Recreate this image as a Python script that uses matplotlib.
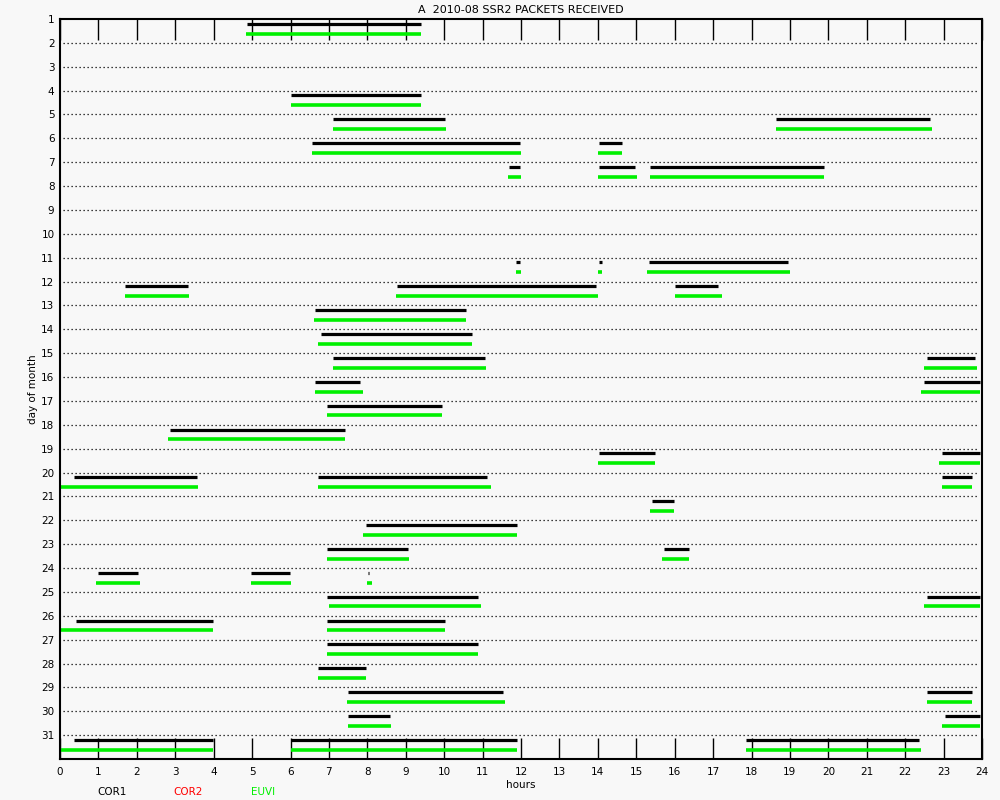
import matplotlib
matplotlib.use("Agg")
import matplotlib.pyplot as plt

title = "A  2010-08 SSR2 PACKETS RECEIVED"
days = list(range(1, 32))
hours = list(range(0, 25))

# COR1 packets received: (day, start hour, end hour)
cor1_segments = [
    (1, 4.88, 9.39),
    (4, 6.02, 9.39),
    (5, 7.11, 10.03), (5, 18.64, 22.64),
    (6, 6.57, 11.97), (6, 14.04, 14.63),
    (7, 11.70, 11.97), (7, 14.04, 14.98), (7, 15.37, 19.88),
    (11, 11.86, 11.97), (11, 14.04, 14.10), (11, 15.32, 18.95),
    (12, 1.70, 3.32), (12, 8.78, 13.96), (12, 16.02, 17.14),
    (13, 6.63, 10.56),
    (14, 6.79, 10.72),
    (15, 7.11, 11.05), (15, 22.56, 23.81),
    (16, 6.65, 7.82), (16, 22.48, 23.96),
    (17, 6.96, 9.95),
    (18, 2.87, 7.41),
    (19, 14.04, 15.48), (19, 22.96, 23.96),
    (20, 0.37, 3.56), (20, 6.72, 11.12), (20, 22.96, 23.73),
    (21, 15.40, 15.98),
    (22, 7.96, 11.89),
    (23, 6.96, 9.05), (23, 15.71, 16.38),
    (24, 0.98, 2.04), (24, 4.96, 5.98), (24, 8.03, 8.05),
    (25, 6.96, 10.87), (25, 22.56, 23.96),
    (26, 0.41, 3.98), (26, 6.96, 10.03),
    (27, 6.96, 10.87),
    (28, 6.71, 7.96),
    (29, 7.49, 11.54), (29, 22.56, 23.73),
    (30, 7.49, 8.58), (30, 23.04, 23.96),
    (31, 0.37, 3.98), (31, 6.02, 11.89), (31, 17.86, 22.37),
]

# EUVI packets received: (day, start hour, end hour)
euvi_segments = [
    (1, 4.85, 9.39),
    (4, 6.00, 9.39),
    (5, 7.11, 10.06), (5, 18.63, 22.71),
    (6, 6.57, 12.01), (6, 14.01, 14.63),
    (7, 11.67, 12.01), (7, 14.01, 15.02), (7, 15.37, 19.89),
    (11, 11.86, 12.01), (11, 14.01, 14.12), (11, 15.29, 18.99),
    (12, 1.68, 3.37), (12, 8.75, 14.01), (12, 16.02, 17.22),
    (13, 6.60, 10.58),
    (14, 6.72, 10.72),
    (15, 7.11, 11.08), (15, 22.50, 23.88),
    (16, 6.63, 7.88), (16, 22.42, 23.96),
    (17, 6.96, 9.95),
    (18, 2.82, 7.43),
    (19, 14.01, 15.48), (19, 22.88, 23.96),
    (20, 0.00, 3.59), (20, 6.72, 11.23), (20, 22.96, 23.74),
    (21, 15.37, 15.98),
    (22, 7.89, 11.89),
    (23, 6.94, 9.08), (23, 15.66, 16.38),
    (24, 0.95, 2.07), (24, 4.96, 6.01), (24, 8.00, 8.11),
    (25, 6.99, 10.95), (25, 22.50, 23.96),
    (26, 0.00, 3.99), (26, 6.94, 10.03),
    (27, 6.96, 10.89),
    (28, 6.71, 7.97),
    (29, 7.46, 11.58), (29, 22.56, 23.74),
    (30, 7.49, 8.62), (30, 22.96, 23.96),
    (31, 0.00, 3.99), (31, 6.02, 11.90), (31, 17.86, 22.40),
]

legend_names = ["COR1", "COR2", "EUVI"]
legend_colors = ["black", "#ff0000", "#00f000"]

bg = "#f8f8f8"
green = "#00f000"

plt.rcParams["font.family"] = ["DejaVu Sans"]
fig = plt.figure(figsize=(10, 8), dpi=100, facecolor=bg)
ax = fig.add_axes([0.06, 0.05125, 0.922, 0.925], facecolor=bg)

ax.set_xlim(0, 24)
ax.set_ylim(32, 1)

# dotted day guide lines
ax.hlines(days[1:], 0.08, 23.9, colors="black", linestyles=(0, (1, 2.2)), linewidth=0.9)

for d, s, e in cor1_segments:
    ax.hlines(d + 0.2, s, e, colors="black", linewidth=2.3, capstyle="butt")
for d, s, e in euvi_segments:
    ax.hlines(d + 0.61, s, e, colors=green, linewidth=2.6, capstyle="butt")

ax.set_xticks(hours)
ax.set_xticklabels([str(h) for h in hours], fontsize=7.5)
ax.set_yticks(days)
ax.set_yticklabels([str(d) for d in days], fontsize=7.5)
ax.tick_params(axis="x", direction="in", length=15, width=1.0, top=True, bottom=True, pad=6)
ax.tick_params(axis="y", length=0, pad=4)
for sp in ax.spines.values():
    sp.set_linewidth(1.5)

ax.set_title(title, fontsize=8, pad=4)
ax.set_xlabel("hours", fontsize=7.5, labelpad=2)
ax.set_ylabel("day of month", fontsize=7.5)
ax.yaxis.set_label_coords(-0.024, 0.5)

for name, col, xp in zip(legend_names, legend_colors, [0.112, 0.188, 0.263]):
    fig.text(xp, 0.01, name, color=col, fontsize=7.5, ha="center", va="center")

fig.savefig("out.png", dpi=100, facecolor=bg)
